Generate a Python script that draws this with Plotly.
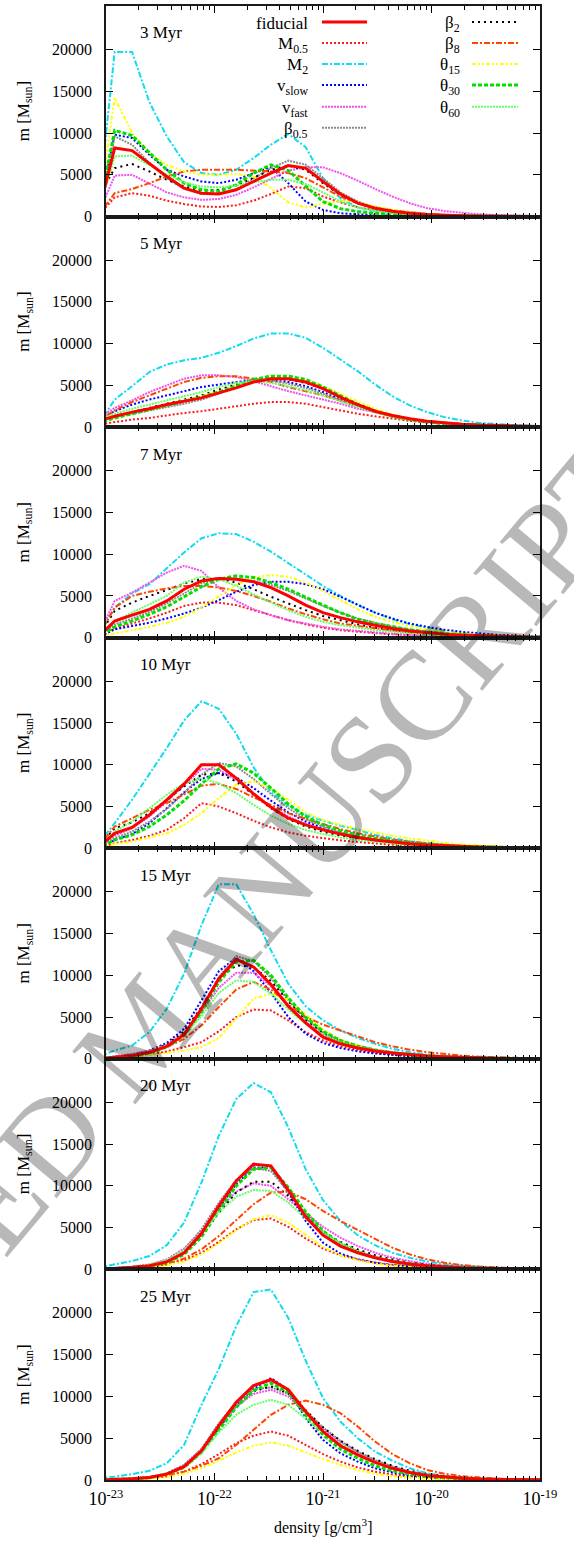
import plotly.graph_objects as go
from plotly.subplots import make_subplots

# log10 of the density bin positions [g/cm^3]
LOG_RHO = [-23.08, -22.92, -22.76, -22.60, -22.44, -22.28, -22.12, -21.96, -21.80,
           -21.64, -21.48, -21.32, -21.16, -21.00, -20.84, -20.68, -20.52, -20.36,
           -20.20, -20.04, -19.88, -19.72, -19.56, -19.40, -19.24, -19.08, -18.92]
DENSITY = [10 ** v for v in LOG_RHO]

# mass per density bin [M_sun], one dict per snapshot
myr3 = dict(
    fiducial=[0, 8200, 7900, 6300, 4800, 3400, 2800, 2700, 3200, 4200, 5200, 6100, 5800, 4200, 2700, 1600, 1000, 650, 400, 250, 150, 100, 60, 40, 20, 10, 0],
    M05=[0, 2300, 2800, 2500, 1900, 1500, 1200, 1150, 1350, 1900, 2700, 3600, 3400, 2400, 1700, 1100, 750, 480, 300, 200, 120, 80, 50, 30, 20, 10, 0],
    M2=[0, 19700, 19700, 13700, 9600, 6500, 5200, 5000, 5600, 7000, 8600, 9900, 8300, 4600, 2200, 1100, 650, 400, 250, 150, 100, 60, 40, 20, 10, 5, 0],
    vslow=[0, 9800, 9400, 7400, 5600, 4800, 4200, 4000, 4400, 5200, 5900, 4000, 1800, 800, 400, 250, 150, 100, 70, 50, 30, 20, 10, 10, 5, 0, 0],
    vfast=[0, 4900, 5000, 3900, 2900, 2300, 2000, 2100, 2600, 3500, 4500, 5500, 5900, 5900, 5200, 4300, 3300, 2400, 1600, 1000, 650, 420, 280, 180, 110, 60, 30],
    b05=[0, 9600, 8600, 6400, 4600, 3300, 2700, 2700, 3300, 4500, 5800, 6700, 6200, 4600, 2900, 1800, 1100, 700, 450, 280, 170, 100, 60, 40, 20, 10, 0],
    b2=[2000, 5800, 6300, 5400, 4400, 3600, 3100, 3200, 3700, 4700, 5600, 6100, 5600, 4000, 2600, 1600, 1000, 650, 400, 250, 150, 100, 60, 40, 20, 10, 0],
    b8=[0, 2800, 3300, 4000, 4800, 5400, 5600, 5600, 5600, 5500, 5400, 5200, 4600, 3500, 2400, 1600, 1100, 750, 500, 320, 200, 120, 70, 40, 20, 10, 0],
    t15=[0, 14200, 10000, 7600, 6200, 5400, 5000, 5000, 5100, 4800, 3400, 1700, 1100, 1500, 1900, 1700, 1200, 800, 500, 300, 180, 110, 70, 40, 20, 10, 0],
    t30=[0, 10300, 9700, 7600, 5600, 4000, 3200, 3000, 3800, 5200, 6200, 5500, 3700, 1800, 950, 600, 400, 270, 180, 120, 80, 50, 30, 20, 10, 5, 0],
    t60=[0, 7200, 7300, 6200, 5000, 4100, 3600, 3500, 3700, 4100, 4400, 4400, 3900, 2900, 1800, 1100, 700, 450, 300, 190, 120, 80, 50, 30, 20, 10, 0],
)
myr5 = dict(
    fiducial=[700, 1300, 1800, 2200, 2700, 3100, 3500, 4100, 4700, 5400, 5800, 5800, 5400, 4600, 3600, 2700, 1900, 1400, 1000, 700, 500, 350, 250, 180, 120, 80, 50],
    M05=[300, 600, 900, 1100, 1400, 1700, 1900, 2200, 2500, 2800, 3000, 3000, 2800, 2400, 2000, 1600, 1300, 1000, 750, 550, 400, 300, 220, 150, 100, 60, 30],
    M2=[100, 3300, 4900, 6600, 7500, 8000, 8300, 8900, 9700, 10600, 11200, 11200, 10700, 9500, 8100, 6700, 5100, 3700, 2600, 1800, 1200, 800, 500, 350, 250, 150, 80],
    vslow=[900, 1900, 2700, 3300, 3800, 4300, 4800, 5100, 5400, 5600, 5600, 5400, 4900, 4200, 3300, 2600, 1900, 1400, 1000, 700, 500, 350, 250, 170, 110, 70, 40],
    vfast=[1000, 2300, 3200, 4200, 5000, 5800, 6200, 6200, 6000, 5500, 4900, 4300, 3800, 3300, 2800, 2200, 1800, 1300, 1000, 700, 500, 350, 250, 170, 110, 70, 40],
    b05=[600, 1200, 1600, 2000, 2400, 2800, 3300, 4000, 4900, 5800, 5600, 5200, 4700, 4000, 3200, 2500, 1800, 1300, 900, 650, 450, 320, 220, 150, 100, 60, 30],
    b2=[600, 1300, 1800, 2300, 2800, 3300, 3800, 4500, 5100, 5600, 5800, 5700, 5300, 4600, 3700, 2800, 2000, 1400, 1000, 700, 500, 350, 250, 170, 110, 70, 40],
    b8=[600, 2000, 3000, 3800, 4600, 5400, 5900, 6100, 6100, 5800, 5400, 4800, 4300, 3800, 3200, 2500, 1900, 1400, 1000, 700, 500, 350, 250, 170, 110, 70, 40],
    t15=[500, 1200, 1700, 2200, 2700, 3200, 3700, 4300, 4900, 5500, 5900, 5900, 5600, 4900, 4000, 3100, 2200, 1500, 1000, 700, 500, 350, 250, 170, 110, 70, 40],
    t30=[500, 1100, 1600, 2100, 2600, 3100, 3600, 4200, 4900, 5700, 6100, 6100, 5700, 4800, 3700, 2700, 1900, 1300, 900, 600, 420, 300, 200, 140, 90, 60, 30],
    t60=[800, 1600, 2200, 2700, 3200, 3700, 4200, 4800, 5300, 5500, 5300, 4900, 4400, 3800, 3100, 2400, 1800, 1300, 900, 650, 450, 320, 220, 150, 100, 60, 30],
)
myr7 = dict(
    fiducial=[0, 2000, 2700, 3400, 4400, 5800, 6800, 7100, 7000, 6700, 6000, 5000, 3900, 3000, 2400, 1900, 1500, 1100, 800, 600, 430, 310, 220, 160, 110, 70, 40],
    M05=[0, 1100, 1700, 2300, 3000, 3800, 4200, 4200, 3900, 3300, 2700, 2100, 1600, 1200, 900, 700, 550, 420, 320, 240, 170, 120, 80, 50, 30, 20, 10],
    M2=[0, 3600, 5300, 6400, 8300, 10200, 11900, 12500, 12400, 11500, 10300, 8900, 7500, 6200, 5000, 3900, 3000, 2200, 1600, 1200, 850, 600, 430, 320, 230, 160, 100],
    vslow=[0, 1000, 1400, 1800, 2300, 2900, 3600, 4500, 5500, 6300, 6700, 6700, 6400, 5800, 4900, 3900, 3000, 2300, 1700, 1300, 950, 700, 500, 350, 250, 170, 100],
    vfast=[0, 4400, 5400, 6600, 7800, 8600, 8000, 6000, 4400, 3400, 2700, 2100, 1700, 1300, 1000, 800, 600, 450, 330, 250, 180, 130, 90, 60, 40, 30, 20],
    b05=[0, 1600, 2300, 3100, 4100, 5300, 6500, 7100, 7100, 6800, 6300, 5600, 4700, 3800, 3000, 2300, 1800, 1300, 950, 700, 500, 350, 250, 170, 110, 70, 40],
    b2=[0, 3200, 4200, 5000, 5700, 6500, 7000, 7100, 6600, 5800, 4900, 4100, 3300, 2600, 2100, 1600, 1200, 900, 650, 480, 350, 250, 180, 120, 80, 50, 30],
    b8=[0, 3600, 5000, 5500, 5900, 6200, 6200, 6000, 5600, 5000, 4300, 3500, 2800, 2200, 1700, 1400, 1100, 850, 650, 500, 370, 270, 190, 130, 90, 60, 30],
    t15=[0, 500, 900, 1300, 1800, 2500, 3600, 5000, 6300, 7200, 7500, 7300, 6600, 5600, 4500, 3400, 2500, 1900, 1400, 1000, 700, 500, 350, 240, 160, 100, 60],
    t30=[0, 1300, 2000, 2800, 3700, 4900, 6100, 7000, 7400, 7200, 6600, 5800, 4800, 3900, 3000, 2200, 1700, 1300, 950, 700, 500, 350, 250, 170, 110, 70, 40],
    t60=[0, 2000, 3000, 4000, 5000, 6600, 7300, 7000, 6200, 5200, 4200, 3300, 2500, 1900, 1500, 1200, 900, 700, 500, 380, 280, 200, 140, 100, 60, 40, 20],
)
myr10 = dict(
    fiducial=[0, 1800, 2500, 4000, 5800, 7700, 10000, 10000, 8400, 6500, 4900, 3600, 2800, 2200, 1700, 1300, 1000, 750, 550, 400, 300, 210, 150, 100, 70, 50, 30],
    M05=[0, 600, 1000, 1500, 2200, 3600, 5400, 5000, 4200, 3300, 2500, 1900, 1500, 1200, 950, 750, 550, 420, 320, 240, 170, 120, 80, 50, 30, 20, 10],
    M2=[400, 3000, 5800, 8900, 12000, 15300, 17600, 16700, 13700, 9700, 6700, 5100, 4000, 3300, 2700, 2200, 1600, 1200, 850, 600, 420, 300, 210, 150, 100, 70, 40],
    vslow=[0, 1000, 1700, 3000, 4800, 6700, 8300, 9000, 8500, 7200, 5700, 4300, 3200, 2400, 1800, 1300, 950, 700, 500, 360, 260, 180, 120, 80, 50, 30, 20],
    vfast=[0, 1500, 2400, 3800, 5600, 7600, 9500, 9400, 8200, 6600, 5000, 3800, 2900, 2300, 1800, 1400, 1050, 780, 570, 420, 300, 210, 150, 100, 70, 40, 20],
    b05=[0, 1200, 2000, 3200, 4700, 6600, 8800, 10200, 9800, 8300, 6500, 4800, 3500, 2600, 1900, 1400, 1050, 780, 570, 420, 300, 210, 150, 100, 70, 40, 20],
    b2=[0, 2400, 3100, 4200, 5800, 7400, 8800, 9000, 8000, 6400, 4800, 3500, 2600, 2000, 1500, 1150, 880, 660, 490, 360, 260, 180, 120, 80, 50, 30, 20],
    b8=[0, 2600, 3600, 4600, 5400, 6500, 7500, 7700, 7100, 6100, 5200, 4200, 3500, 2900, 2300, 1800, 1400, 1050, 780, 580, 420, 300, 210, 150, 100, 60, 30],
    t15=[0, 500, 800, 1300, 1800, 2800, 4200, 6000, 7600, 8000, 7200, 5800, 4300, 3400, 2800, 2300, 1900, 1500, 1200, 900, 650, 460, 320, 220, 150, 100, 60],
    t30=[0, 1000, 1600, 2600, 4000, 5700, 7700, 9500, 10100, 9000, 7200, 5300, 3800, 2800, 2100, 1600, 1200, 900, 650, 480, 340, 240, 170, 110, 70, 40, 20],
    t60=[0, 2000, 3200, 4800, 6400, 7800, 8300, 7800, 6600, 5200, 3900, 2900, 2200, 1700, 1300, 1000, 750, 560, 420, 310, 220, 160, 110, 70, 40, 20, 10],
)
myr15 = dict(
    fiducial=[0, 200, 400, 800, 1500, 2900, 6000, 9600, 11900, 11000, 8900, 6300, 4300, 2600, 1800, 1300, 950, 700, 500, 350, 250, 170, 110, 70, 40, 20, 10],
    M05=[0, 100, 250, 500, 900, 1400, 2000, 3300, 5000, 5900, 5800, 4600, 3200, 2200, 1500, 1100, 750, 500, 330, 220, 150, 100, 60, 40, 20, 10, 0],
    M2=[200, 1000, 1600, 3200, 6000, 10200, 16000, 20900, 20900, 17300, 13000, 9000, 6300, 4600, 3400, 2500, 1800, 1200, 800, 500, 330, 220, 150, 100, 60, 40, 20],
    vslow=[0, 200, 500, 1000, 1900, 3600, 7000, 10500, 12100, 10500, 7900, 5000, 3000, 1900, 1300, 900, 650, 450, 320, 220, 150, 100, 60, 40, 20, 10, 0],
    vfast=[0, 300, 600, 1000, 1700, 3100, 5600, 8500, 10300, 10300, 8700, 6400, 4400, 2900, 2000, 1400, 1000, 700, 500, 350, 240, 160, 100, 60, 40, 20, 10],
    b05=[0, 200, 400, 800, 1500, 3000, 6000, 9800, 12300, 11700, 9700, 7000, 4800, 3200, 2200, 1600, 1100, 800, 550, 380, 260, 170, 110, 70, 40, 20, 10],
    b2=[0, 200, 450, 900, 1700, 3300, 6200, 9600, 11200, 11000, 9300, 6900, 4700, 3100, 2100, 1500, 1050, 750, 520, 360, 250, 170, 110, 70, 40, 20, 10],
    b8=[0, 200, 400, 800, 1400, 2400, 4000, 6200, 8300, 9200, 8300, 6500, 5000, 4100, 3400, 2700, 2000, 1500, 1100, 800, 550, 380, 260, 170, 110, 70, 40],
    t15=[0, 100, 250, 450, 700, 1000, 1400, 2500, 4800, 7200, 7800, 7100, 5300, 3500, 2300, 1600, 1100, 750, 500, 330, 220, 150, 100, 60, 40, 20, 10],
    t30=[0, 100, 300, 700, 1400, 2800, 5600, 9200, 11600, 11800, 10000, 7300, 5000, 3300, 2200, 1500, 1050, 720, 500, 340, 230, 150, 100, 60, 40, 20, 10],
    t60=[0, 200, 500, 900, 1600, 2900, 5100, 7900, 9400, 9200, 7800, 5900, 4200, 2900, 2000, 1400, 1000, 700, 480, 330, 220, 150, 100, 60, 40, 20, 10],
)
myr20 = dict(
    fiducial=[0, 100, 250, 450, 900, 2000, 4300, 7600, 10600, 12600, 12400, 9500, 6300, 4100, 2800, 2000, 1400, 950, 650, 440, 300, 200, 130, 80, 50, 30, 10],
    M05=[0, 50, 150, 300, 600, 1100, 2000, 3300, 4800, 5900, 6100, 5100, 3700, 2500, 1700, 1200, 800, 550, 380, 260, 170, 110, 70, 40, 20, 10, 0],
    M2=[200, 600, 1000, 1600, 2900, 5600, 10400, 16000, 20400, 22300, 21200, 17000, 12000, 8300, 5800, 4100, 2900, 2000, 1400, 950, 650, 450, 300, 200, 130, 80, 40],
    vslow=[0, 100, 250, 450, 900, 2000, 4200, 7300, 10200, 12200, 12200, 9200, 5800, 3200, 1900, 1200, 800, 520, 350, 230, 150, 100, 60, 40, 20, 10, 0],
    vfast=[0, 150, 300, 600, 1200, 2500, 4600, 7200, 9300, 10300, 10000, 8400, 6700, 5100, 3800, 2800, 2000, 1400, 1000, 680, 460, 300, 200, 130, 80, 40, 20],
    b05=[0, 150, 300, 550, 1100, 2400, 4800, 8000, 10700, 12100, 11800, 9300, 6600, 4500, 3100, 2200, 1500, 1000, 700, 480, 330, 220, 140, 90, 50, 30, 10],
    b2=[0, 100, 250, 450, 900, 1900, 3900, 6800, 9200, 10500, 10500, 8800, 6400, 4500, 3300, 2400, 1700, 1200, 800, 550, 370, 250, 160, 100, 60, 30, 10],
    b8=[0, 100, 200, 400, 700, 1300, 2400, 4000, 5900, 7800, 9200, 9300, 8400, 7000, 5800, 4700, 3600, 2600, 1800, 1200, 800, 520, 340, 220, 140, 80, 40],
    t15=[0, 50, 100, 250, 500, 950, 1800, 3100, 4700, 6000, 6500, 5600, 4100, 2700, 1700, 1100, 700, 450, 300, 200, 130, 80, 50, 30, 20, 10, 0],
    t30=[0, 100, 200, 400, 800, 1800, 3900, 7000, 10000, 12000, 12200, 9800, 6900, 4600, 3100, 2100, 1400, 950, 650, 440, 300, 200, 130, 80, 50, 30, 10],
    t60=[0, 150, 300, 600, 1100, 2300, 4300, 6800, 8700, 9500, 9400, 8000, 6100, 4400, 3100, 2200, 1500, 1000, 700, 470, 310, 200, 130, 80, 50, 30, 10],
)
myr25 = dict(
    fiducial=[0, 50, 150, 300, 700, 1600, 3500, 6500, 9300, 11300, 12000, 10800, 8200, 5800, 4100, 3000, 2100, 1400, 900, 550, 330, 200, 120, 70, 40, 20, 10],
    M05=[0, 30, 100, 200, 450, 1000, 1900, 3100, 4400, 5300, 5800, 5300, 4200, 3100, 2200, 1500, 1000, 650, 400, 250, 150, 90, 50, 30, 10, 0, 0],
    M2=[200, 400, 700, 1100, 2000, 4200, 9000, 13300, 18400, 22500, 22800, 19400, 14300, 9800, 7000, 5000, 3400, 2300, 1400, 800, 500, 300, 190, 120, 80, 50, 30],
    vslow=[0, 50, 150, 300, 700, 1600, 3300, 6200, 8900, 10900, 12200, 10800, 7400, 4800, 3200, 2200, 1400, 900, 550, 320, 190, 110, 60, 30, 20, 10, 0],
    vfast=[0, 50, 150, 350, 800, 1800, 3700, 6500, 8800, 10300, 10800, 10000, 8000, 6100, 4500, 3300, 2300, 1600, 1000, 650, 400, 250, 150, 90, 50, 20, 10],
    b05=[0, 60, 180, 350, 800, 1800, 3700, 6800, 9300, 10800, 11100, 10300, 8300, 6300, 4700, 3400, 2400, 1600, 1000, 650, 400, 240, 140, 80, 40, 20, 10],
    b2=[0, 50, 150, 300, 700, 1600, 3400, 6300, 8900, 10600, 11200, 10400, 8300, 6300, 4700, 3500, 2500, 1700, 1100, 700, 430, 260, 150, 90, 50, 20, 10],
    b8=[0, 50, 100, 250, 500, 1000, 1700, 2600, 4200, 6000, 7800, 9000, 9500, 9000, 8000, 6400, 4600, 3100, 2000, 1200, 750, 450, 270, 160, 90, 50, 20],
    t15=[0, 20, 80, 150, 350, 750, 1400, 2300, 3300, 4100, 4500, 4100, 3300, 2500, 1800, 1200, 750, 450, 270, 160, 90, 50, 30, 10, 0, 0, 0],
    t30=[0, 50, 150, 300, 700, 1500, 3300, 6000, 8700, 10700, 11600, 10500, 7800, 5400, 3700, 2600, 1700, 1100, 700, 420, 250, 150, 90, 50, 30, 10, 0],
    t60=[0, 50, 150, 300, 700, 1500, 3200, 5700, 7800, 9000, 9600, 9000, 7400, 5700, 4300, 3100, 2200, 1500, 1000, 630, 380, 230, 130, 70, 40, 20, 10],
)

PANELS = [("3 Myr", myr3), ("5 Myr", myr5), ("7 Myr", myr7), ("10 Myr", myr10),
          ("15 Myr", myr15), ("20 Myr", myr20), ("25 Myr", myr25)]

# label, colour, width, dash pattern for each run
STYLE = {
    "fiducial": ("fiducial", "#ff0000", 3.0, "solid"),
    "M05": ("M<sub>0.5</sub>", "#ff1a1a", 2.0, "2px,2px"),
    "M2": ("M<sub>2</sub>", "#10dcf0", 2.0, "6px,2px,2px,2px"),
    "vslow": ("v<sub>slow</sub>", "#0000ff", 2.0, "2px,2px"),
    "vfast": ("v<sub>fast</sub>", "#f050f0", 2.0, "2px,1px"),
    "b05": ("β<sub>0.5</sub>", "#8c8c8c", 2.0, "2px,1px"),
    "b2": ("β<sub>2</sub>", "#000000", 2.0, "2px,4px"),
    "b8": ("β<sub>8</sub>", "#ff4500", 2.0, "6px,2px,2px,2px"),
    "t15": ("θ<sub>15</sub>", "#ffff00", 2.0, "4px,2px,2px,2px,2px,2px"),
    "t30": ("θ<sub>30</sub>", "#00e000", 3.0, "4px,2px"),
    "t60": ("θ<sub>60</sub>", "#66ff66", 2.0, "2px,1px"),
}
LEGEND_COL1 = ["fiducial", "M05", "M2", "vslow", "vfast", "b05"]
LEGEND_COL2 = ["b2", "b8", "t15", "t30", "t60"]
DRAW_ORDER = ["M05", "M2", "vslow", "vfast", "b05", "b2", "b8", "t15", "t30", "t60", "fiducial"]

YTICKS = [0, 5000, 10000, 15000, 20000]
YLABELS = ["0", "5000", "10000", "15000", "20000"]
XMAJOR = [1e-23, 1e-22, 1e-21, 1e-20, 1e-19]
XLABELS = ["10<sup>-23</sup>", "10<sup>-22</sup>", "10<sup>-21</sup>", "10<sup>-20</sup>", "10<sup>-19</sup>"]
XMINOR = [m * 10.0 ** e for e in range(-23, -19) for m in range(2, 10)]

W, H = 574, 1541
ML, MR, MT, MB = 106, 34, 4, 61
PW, PH = W - ML - MR, H - MT - MB
FONT = "Liberation Serif, Times New Roman, serif"
NROWS = len(PANELS)

fig = make_subplots(rows=NROWS, cols=1, shared_xaxes=True, vertical_spacing=0)

for r, (label, data) in enumerate(PANELS, start=1):
    for key in DRAW_ORDER:
        name, color, width, dash = STYLE[key]
        fig.add_trace(go.Scatter(x=DENSITY, y=data[key], mode="lines", name=name,
                                 line=dict(color=color, width=width, dash=dash),
                                 showlegend=False, hoverinfo="skip"), row=r, col=1)
    sfx = "" if r == 1 else str(r)
    fig.add_annotation(text=label, xref=f"x{sfx} domain", yref=f"y{sfx} domain",
                       x=32 / PW, y=1 - 27 / (PH / NROWS), xanchor="left", yanchor="middle",
                       showarrow=False, font=dict(family=FONT, size=17, color="black"))
    fig.add_annotation(text="m [M<sub>sun</sub>]", xref="paper", yref=f"y{sfx} domain",
                       x=(25 - ML) / PW, y=0.5, textangle=-90, xanchor="center", yanchor="middle",
                       showarrow=False, font=dict(family=FONT, size=17, color="black"))

    fig.update_xaxes(type="log", range=[-23, -19], tickmode="array", tickvals=XMAJOR,
                     ticktext=XLABELS, showticklabels=(r == NROWS),
                     ticks="inside", ticklen=7, tickwidth=1, tickcolor="black",
                     minor=dict(tickmode="array", tickvals=XMINOR, ticks="inside", ticklen=4,
                                tickwidth=1, tickcolor="black", showgrid=False),
                     showline=True, linecolor="#1a1a1a", linewidth=1.5, mirror="allticks",
                     showgrid=False, zeroline=False, ticklabelstandoff=2,
                     tickfont=dict(family=FONT, size=18, color="black"), row=r, col=1)
    fig.update_yaxes(range=[0, 25200], tickmode="array", tickvals=YTICKS, ticktext=YLABELS,
                     ticks="inside", ticklen=7, tickwidth=1, tickcolor="black",
                     showline=True, linecolor="#1a1a1a", linewidth=1.5, mirror="allticks",
                     showgrid=False, zeroline=False, ticklabelstandoff=9,
                     tickfont=dict(family=FONT, size=16, color="black"), row=r, col=1)


def paper_x(px):
    return (px - ML) / PW


def paper_y(py):
    return (H - MB - py) / PH


# key drawn in the top panel: text right-aligned, line sample to its right
ROW_Y = [20, 41, 62, 83, 105, 126]
for col_keys, text_right, s0, s1 in [(LEGEND_COL1, 310, 322, 367), (LEGEND_COL2, 462, 472, 518)]:
    for i, key in enumerate(col_keys):
        name, color, width, dash = STYLE[key]
        yy = ROW_Y[i]
        fig.add_annotation(text=name, xref="paper", yref="paper", x=paper_x(text_right),
                           y=paper_y(yy + 2), xanchor="right", yanchor="middle", showarrow=False,
                           font=dict(family=FONT, size=17, color="black"))
        fig.add_shape(type="line", xref="paper", yref="paper",
                      x0=paper_x(s0), x1=paper_x(s1), y0=paper_y(yy), y1=paper_y(yy),
                      line=dict(color=color, width=width, dash=dash))

fig.add_annotation(text="density [g/cm<sup>3</sup>]", xref="paper", yref="paper",
                   x=paper_x(323), y=paper_y(1527), xanchor="center", yanchor="middle",
                   showarrow=False, font=dict(family=FONT, size=16, color="black"))

# diagonal watermark
fig.add_annotation(text="ACCEPTED MANUSCRIPT", xref="paper", yref="paper",
                   x=paper_x(142), y=paper_y(1030), xanchor="center", yanchor="middle",
                   textangle=-50, showarrow=False,
                   font=dict(family=FONT, size=126, color="rgba(0,0,0,0.28)"))

fig.update_layout(width=W, height=H, margin=dict(l=ML, r=MR, t=MT, b=MB),
                  plot_bgcolor="white", paper_bgcolor="white", showlegend=False)

fig.write_html("out.html")
